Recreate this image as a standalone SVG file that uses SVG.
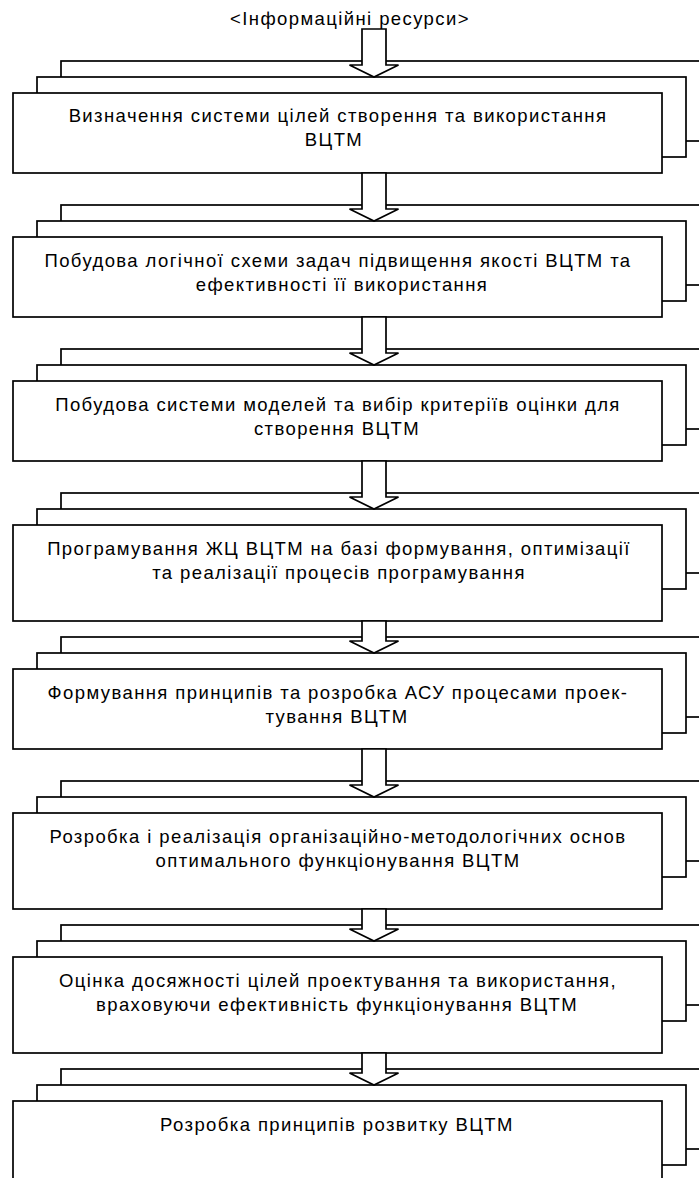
<svg xmlns="http://www.w3.org/2000/svg" width="699" height="1178" viewBox="0 0 699 1178">
<defs>
<style>
.sh{fill:#fff;stroke:#000;stroke-width:1.7}
.t{font-family:"Liberation Sans",Arial,sans-serif;font-size:18.5px;letter-spacing:1.4px;fill:#000;text-anchor:middle}
.ar{fill:#fff;stroke:#000;stroke-width:1.7;stroke-linejoin:miter}
</style>
</defs>
<rect width="699" height="1178" fill="#fff"/>
<text class="t" x="350" y="25">&lt;Інформаційні ресурси&gt;</text>
<g id="node1">
<rect class="sh" x="61" y="61" width="649" height="80"/>
<rect class="sh" x="37" y="77" width="649" height="80"/>
<rect class="sh" x="13" y="93" width="649" height="80"/>
<text class="t" x="338" y="122">Визначення системи цілей створення та використання</text>
<text class="t" x="334" y="146">ВЦТМ</text>
</g>
<g id="node2">
<rect class="sh" x="61" y="205" width="649" height="80"/>
<rect class="sh" x="37" y="221" width="649" height="80"/>
<rect class="sh" x="13" y="237" width="649" height="80"/>
<text class="t" x="338" y="267">Побудова логічної схеми задач підвищення якості ВЦТМ та</text>
<text class="t" x="342" y="291">ефективності її використання</text>
</g>
<g id="node3">
<rect class="sh" x="61" y="349" width="649" height="80"/>
<rect class="sh" x="37" y="365" width="649" height="80"/>
<rect class="sh" x="13" y="381" width="649" height="80"/>
<text class="t" x="338" y="411">Побудова системи моделей та вибір критеріїв оцінки для</text>
<text class="t" x="337" y="435">створення ВЦТМ</text>
</g>
<g id="node4">
<rect class="sh" x="61" y="493" width="649" height="80"/>
<rect class="sh" x="37" y="509" width="649" height="80"/>
<rect class="sh" x="13" y="525" width="649" height="96"/>
<text class="t" x="339" y="555">Програмування ЖЦ ВЦТМ на базі формування, оптимізації</text>
<text class="t" x="339" y="579">та реалізації процесів програмування</text>
</g>
<g id="node5">
<rect class="sh" x="61" y="637" width="649" height="80"/>
<rect class="sh" x="37" y="653" width="649" height="80"/>
<rect class="sh" x="13" y="669" width="649" height="80"/>
<text class="t" x="338" y="699">Формування принципів та розробка АСУ процесами проек-</text>
<text class="t" x="337" y="723">тування ВЦТМ</text>
</g>
<g id="node6">
<rect class="sh" x="61" y="781" width="649" height="80"/>
<rect class="sh" x="37" y="797" width="649" height="80"/>
<rect class="sh" x="13" y="813" width="649" height="96"/>
<text class="t" x="338" y="843">Розробка і реалізація організаційно-методологічних основ</text>
<text class="t" x="338" y="867">оптимального функціонування ВЦТМ</text>
</g>
<g id="node7">
<rect class="sh" x="61" y="925" width="649" height="80"/>
<rect class="sh" x="37" y="941" width="649" height="80"/>
<rect class="sh" x="13" y="957" width="649" height="96"/>
<text class="t" x="338" y="987">Оцінка досяжності цілей проектування та використання,</text>
<text class="t" x="337" y="1011">враховуючи ефективність функціонування ВЦТМ</text>
</g>
<g id="node8">
<rect class="sh" x="61" y="1069" width="649" height="80"/>
<rect class="sh" x="37" y="1085" width="649" height="80"/>
<rect class="sh" x="13" y="1101" width="649" height="96"/>
<text class="t" x="337" y="1131">Розробка принципів розвитку ВЦТМ</text>
</g>
<g id="connectors">
<polygon class="ar" points="362,29 386,29 386,65 398.5,65 374,77 349.5,65 362,65"/>
<polygon class="ar" points="362,173 386,173 386,209 398.5,209 374,221 349.5,209 362,209"/>
<polygon class="ar" points="362,317 386,317 386,353 398.5,353 374,365 349.5,353 362,353"/>
<polygon class="ar" points="362,461 386,461 386,497 398.5,497 374,509 349.5,497 362,497"/>
<polygon class="ar" points="362,621 386,621 386,641 398.5,641 374,653 349.5,641 362,641"/>
<polygon class="ar" points="362,749 386,749 386,785 398.5,785 374,797 349.5,785 362,785"/>
<polygon class="ar" points="362,909 386,909 386,929 398.5,929 374,941 349.5,929 362,929"/>
<polygon class="ar" points="362,1053 386,1053 386,1073 398.5,1073 374,1085 349.5,1073 362,1073"/>
</g>
</svg>
